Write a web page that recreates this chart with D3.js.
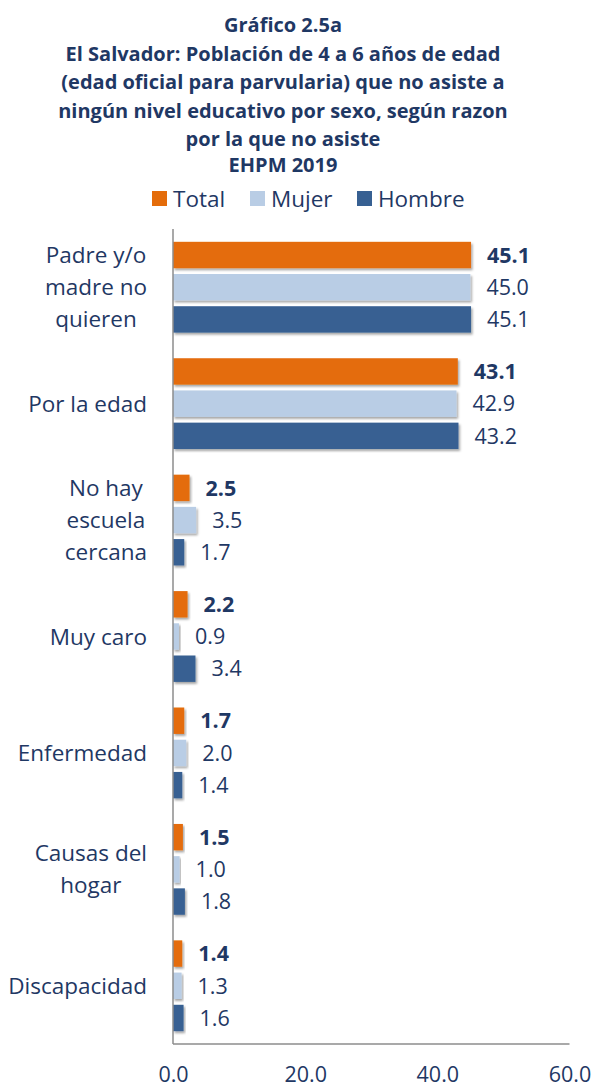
<!DOCTYPE html>
<html>
<head>
<meta charset="utf-8">
<script src="https://cdn.jsdelivr.net/npm/d3@7/dist/d3.min.js"></script>
<style>
  html, body { margin: 0; padding: 0; background: #ffffff; }
  svg { display: block; }
</style>
</head>
<body>
<svg id="chart" width="595" height="1089"></svg>
<script>
// ---- data ----
const categories = ["Padre y/o madre no quieren", "Por la edad", "No hay escuela cercana", "Muy caro", "Enfermedad", "Causas del hogar", "Discapacidad"];
const categoryLines = [["Padre y/o", "madre no", "quieren"], ["Por la edad"], ["No hay", "escuela", "cercana"], ["Muy caro"], ["Enfermedad"], ["Causas del", "hogar"], ["Discapacidad"]];
const seriesNames = ["Total", "Mujer", "Hombre"];
const totalValues = [45.1, 43.1, 2.5, 2.2, 1.7, 1.5, 1.4];
const mujerValues = [45.0, 42.9, 3.5, 0.9, 2.0, 1.0, 1.3];
const hombreValues = [45.1, 43.2, 1.7, 3.4, 1.4, 1.8, 1.6];
const xTicks = [0, 20, 40, 60];
const titleLines = ["Gráfico 2.5a", "El Salvador: Población de 4 a 6 años de edad", "(edad oficial para parvularia) que no asiste a", "ningún nivel educativo por sexo, según razon", "por la que no asiste", "EHPM 2019"];

// ---- styles ----
const colors = { "Total": "#E46C0A", "Mujer": "#B9CDE5", "Hombre": "#376092" };
const textColor = "#1F3864";
const font = "'Open Sans', 'Noto Sans', sans-serif";

const svg = d3.select("#chart");

const defs = svg.append("defs");
const f = defs.append("filter").attr("id", "shadow").attr("x", "-20%").attr("y", "-30%").attr("width", "140%").attr("height", "170%");
f.append("feDropShadow").attr("dx", 1.5).attr("dy", 2).attr("stdDeviation", 1.3).attr("flood-color", "#000").attr("flood-opacity", 0.35);

// ---- title ----
const titleBaselines = [32, 60.5, 89, 117.5, 146, 172];
svg.append("g").selectAll("text").data(titleLines).join("text")
  .attr("x", 283).attr("y", (d, i) => titleBaselines[i])
  .attr("text-anchor", "middle")
  .attr("font-family", font).attr("font-weight", 700).attr("font-size", 20)
  .attr("fill", textColor).text(d => d);

// ---- legend ----
const legendX = [152, 250, 357];
const lg = svg.append("g").selectAll("g").data(seriesNames).join("g")
  .attr("transform", (d, i) => `translate(${legendX[i]},191)`);
lg.append("rect").attr("width", 15).attr("height", 15).attr("fill", d => colors[d]);
lg.append("text").attr("x", 21).attr("y", 16)
  .attr("font-family", font).attr("font-size", 22.5).attr("fill", textColor).text(d => d);

// ---- scales ----
const x = d3.scaleLinear().domain([0, 60]).range([173, 569.5]);
const y0 = d3.scaleBand().domain(categories).range([229, 1044]).paddingInner(0.22).paddingOuter(0.11);
const y1 = d3.scaleBand().domain(seriesNames).range([0, y0.bandwidth()]).paddingInner(0.18);

const rows = categories.map((c, i) => ({
  cat: c, lines: categoryLines[i],
  vals: [
    { s: "Total", v: totalValues[i] },
    { s: "Mujer", v: mujerValues[i] },
    { s: "Hombre", v: hombreValues[i] }
  ]
}));

// ---- bars ----
const groups = svg.append("g").selectAll("g").data(rows).join("g")
  .attr("transform", d => `translate(0,${y0(d.cat)})`);

groups.selectAll("rect").data(d => d.vals).join("rect")
  .attr("x", x(0))
  .attr("y", d => y1(d.s))
  .attr("width", d => x(d.v) - x(0))
  .attr("height", y1.bandwidth())
  .attr("fill", d => colors[d.s])
  .attr("filter", "url(#shadow)");

groups.selectAll("text.val").data(d => d.vals).join("text")
  .attr("class", "val")
  .attr("x", d => x(d.v) + 16)
  .attr("y", d => y1(d.s) + y1.bandwidth() / 2)
  .attr("dy", "0.36em")
  .attr("font-family", font).attr("font-size", 21.5)
  .attr("font-weight", d => d.s === "Total" ? 700 : 400)
  .attr("fill", textColor)
  .text(d => d3.format(".1f")(d.v));

// ---- axes lines ----
const axisColor = "#8C8C8C";
const yAxis = d3.axisLeft(y0).tickSize(0).tickFormat("");
svg.append("g").attr("transform", `translate(${x(0)},0)`).call(yAxis)
  .call(g => g.select(".domain").attr("stroke", axisColor).attr("stroke-width", 1.5).attr("d", `M0,229V1044`));
svg.append("line").attr("x1", x(0)).attr("x2", x(60)).attr("y1", 1044).attr("y2", 1044)
  .attr("stroke", axisColor).attr("stroke-width", 1.5);

const xAxis = d3.axisBottom(x).tickValues(xTicks).tickSize(0).tickPadding(0).tickFormat(d3.format(".1f"));
svg.append("g").attr("transform", "translate(0,1067)").call(xAxis)
  .call(g => g.select(".domain").remove())
  .call(g => g.selectAll("text").attr("font-family", font).attr("font-size", 21.5).attr("fill", textColor));

// ---- category labels ----
const labelRight = 147;
const lineH = 32;
const catG = svg.append("g");
rows.forEach(r => {
  const cy = y0(r.cat) + y0.bandwidth() / 2;
  const g = catG.append("g");
  const texts = g.selectAll("text").data(r.lines).join("text")
    .attr("font-family", font).attr("font-size", 22.5).attr("fill", textColor)
    .attr("text-anchor", "middle")
    .attr("y", (d, i) => cy + (i - (r.lines.length - 1) / 2) * lineH)
    .attr("dy", "0.36em")
    .text(d => d);
  let maxW = 0;
  texts.each(function () { maxW = Math.max(maxW, this.getComputedTextLength()); });
  texts.attr("x", labelRight - maxW / 2);
});
</script>
</body>
</html>
